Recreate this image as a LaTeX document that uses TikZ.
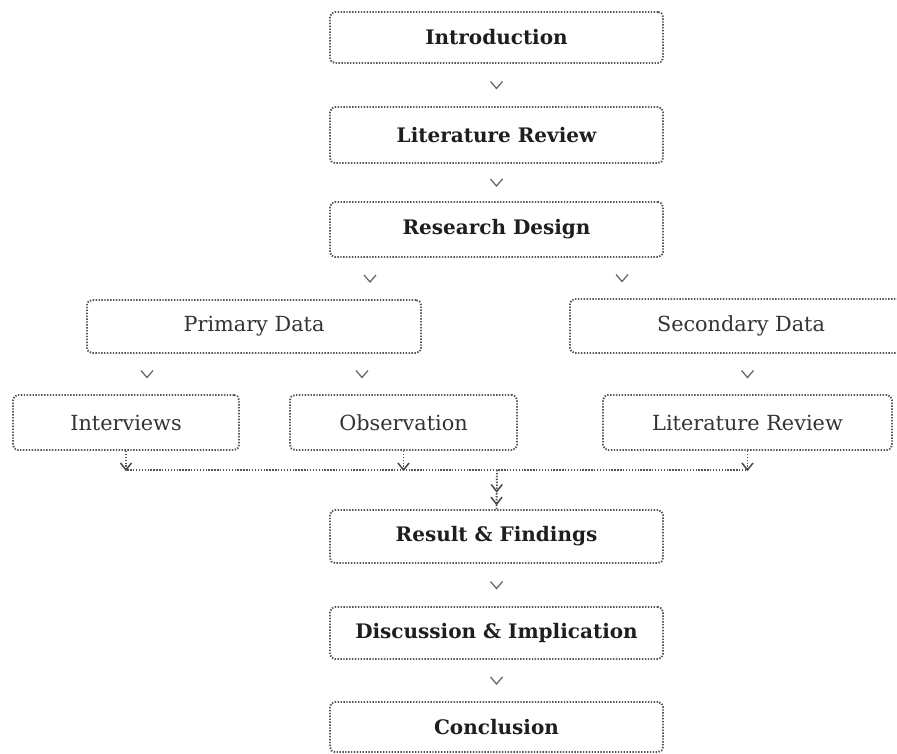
\documentclass[tikz,border=0pt]{standalone}
\usepackage{fontspec}
\setmainfont{DejaVu Serif}
\definecolor{boxline}{HTML}{555555}
\definecolor{veecol}{HTML}{6A6A6A}
\definecolor{txt}{HTML}{1E1E1E}
\definecolor{txtr}{HTML}{333333}
\tikzset{
  fbox/.style={draw=boxline, rounded corners=5pt, line width=1.9pt,
    dash pattern=on 1.4pt off 1.5pt, inner sep=0pt, text=txtr,
    font=\fontsize{20.8}{24}\selectfont},
  bbox/.style={fbox, text=txt, font=\fontsize{20}{24}\selectfont\bfseries},
  link/.style={draw=boxline, line width=1.9pt, dash pattern=on 1.4pt off 1.5pt},
  vee/.pic={\draw[veecol, line width=1.3pt, line join=miter] (-6,-3.5) -- (0,3.5) -- (6,-3.5);},
  veetip/.pic={\draw[boxline!85!black, line width=1.5pt] (-5.5,-7) -- (0,0) -- (5.5,-7);}
}
\begin{document}
\begin{tikzpicture}[x=1pt,y=-1pt]
\useasboundingbox (0,0) rectangle (897,754);
\node[bbox, minimum width=333pt, minimum height=51pt] (intro) at (496.5,37.5) {Introduction};
\node[bbox, minimum width=333pt, minimum height=56pt] (lr) at (496.5,135) {Literature Review};
\node[bbox, minimum width=333pt, minimum height=55pt] (rd) at (496.5,229.5) {Research Design};
\node[fbox, minimum width=334pt, minimum height=53pt] (pd) at (254,326.5) {Primary Data};
\node[fbox, minimum width=342pt, minimum height=54pt] (sd) at (741,326) {Secondary Data};
\node[fbox, minimum width=226pt, minimum height=55pt] (iv) at (126,422.5) {Interviews};
\node[fbox, minimum width=227pt, minimum height=55pt] (ob) at (403.5,422.5) {Observation};
\node[fbox, minimum width=289pt, minimum height=55pt] (lr2) at (747.5,422.5) {Literature Review};
\node[bbox, minimum width=333pt, minimum height=53pt] (rf) at (496.5,536.5) {Result \& Findings};
\node[bbox, minimum width=333pt, minimum height=52pt] (di) at (496.5,633) {Discussion \& Implication};
\node[bbox, minimum width=333pt, minimum height=50pt] (co) at (496.5,727) {Conclusion};
\coordinate (c370) at (370,0);
\coordinate (c622) at (622,0);
\coordinate (c147) at (147,0);
\coordinate (c362) at (362,0);
\coordinate (m) at (497,470);
% simple connectors (only arrowheads visible)
\path (intro.south) -- pic{vee} (lr.north);
\path (lr.south) -- pic{vee} (rd.north);
\path (rd.south -| c370) -- pic{vee} (pd.north -| c370);
\path (rd.south -| c622) -- pic{vee} (sd.north -| c622);
\path (pd.south -| c147) -- pic{vee} (iv.north -| c147);
\path (pd.south -| c362) -- pic{vee} (ob.north -| c362);
\path (sd.south -| lr2.north) -- pic{vee} (lr2.north);
\path (rf.south) -- pic{vee} (di.north);
\path (di.south) -- pic{vee} (co.north);
% merging connectors
\draw[link] (iv.south) |- (m);
\draw[link] (lr2.south) |- (m);
\draw[link] (ob.south) -- (ob.south |- m);
\draw[link] (m) -- (rf.north);
\path (iv.south) -- pic[pos=1]{veetip} (iv.south |- m);
\path (ob.south) -- pic[pos=1]{veetip} (ob.south |- m);
\path (lr2.south) -- pic[pos=1]{veetip} (lr2.south |- m);
\path (m) -- pic[pos=0.55]{veetip} (rf.north);
\path (m) -- pic[pos=0.875]{veetip} (rf.north);
\end{tikzpicture}
\end{document}
